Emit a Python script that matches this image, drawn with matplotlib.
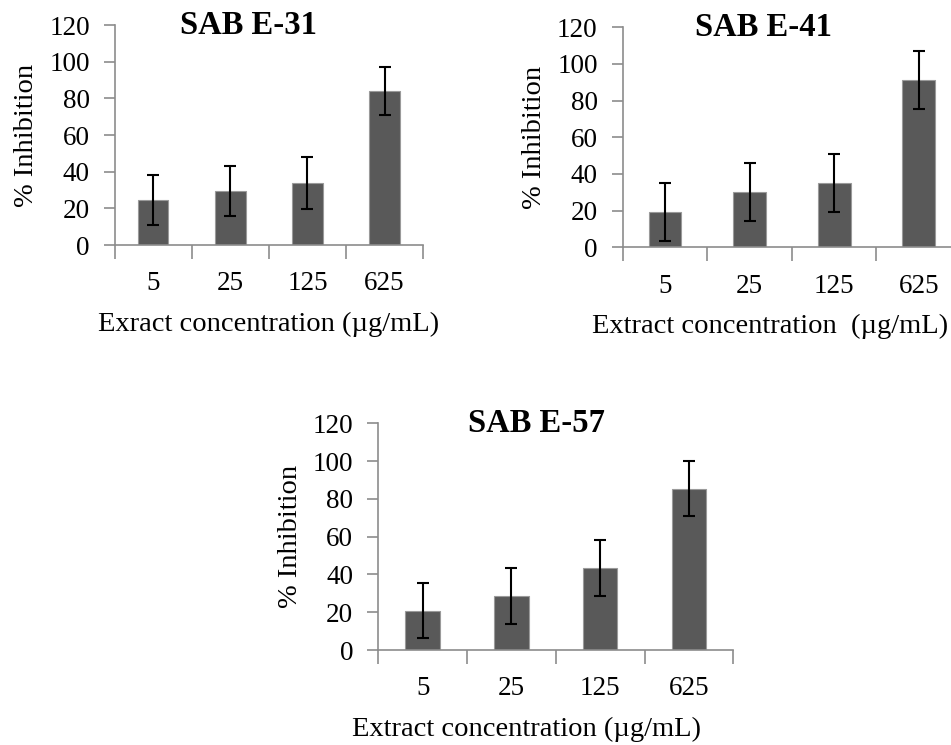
import numpy as np
import matplotlib.pyplot as plt

plt.rcParams['font.family'] = 'serif'
plt.rcParams['font.serif'] = ['Liberation Serif', 'Nimbus Roman', 'Times New Roman', 'DejaVu Serif']

concentrations = ['5', '25', '125', '625']

titles = ['SAB E-31', 'SAB E-41', 'SAB E-57']
xlabels = ['Exract concentration (\u00b5g/mL)',
           'Extract concentration  (\u00b5g/mL)',
           'Extract concentration (\u00b5g/mL)']

inhib_e31 = [24.5, 29.5, 33.8, 84.0]
err_e31 = [13.5, 13.5, 14.0, 13.2]
inhib_e41 = [19.4, 30.3, 35.2, 91.3]
err_e41 = [15.8, 15.8, 15.8, 15.8]
inhib_e57 = [20.8, 28.6, 43.4, 85.4]
err_e57 = [14.6, 14.6, 14.6, 14.4]

values = [inhib_e31, inhib_e41, inhib_e57]
errors = [err_e31, err_e41, err_e57]

# axes boxes in figure fractions [left, bottom, width, height]
boxes = [[0.1209, 0.6711, 0.3239, 0.2953],
         [0.6548, 0.6680, 0.3557, 0.2954],
         [0.3978, 0.1275, 0.3733, 0.3043]]
# horizontal centre of title / x label, in axes fraction
title_x = [0.432, 0.415, 0.446]
xlabel_x = [0.5, 0.436, 0.418]

W, H = 951, 745
fig = plt.figure(figsize=(W / 100, H / 100), dpi=100)
axis_col = '#8c8c8c'
tick_fs = 19.5
label_fs = 20.5

for i, (box, title, xl, vals, errs) in enumerate(zip(boxes, titles, xlabels, values, errors)):
    ax = fig.add_axes(box)
    wpx, hpx = box[2] * W, box[3] * H
    x = np.arange(len(concentrations))
    ax.bar(x, vals, width=0.39, color='#595959', edgecolor='#9a9a9a', linewidth=0.8, zorder=2)
    ax.errorbar(x, vals, yerr=errs, fmt='none', ecolor='black', elinewidth=1.5,
                capsize=4.5, capthick=1.5, zorder=3)
    ax.set_xlim(-0.5, len(concentrations) - 0.5)
    ax.set_ylim(0, 120)
    ax.set_yticks(np.arange(0, 121, 20))
    ax.set_xticks(x)
    ax.set_xticklabels(concentrations)
    ax.set_xticks(np.arange(-0.5, len(concentrations), 1.0), minor=True)
    ax.tick_params(axis='x', which='major', length=0, pad=19, labelsize=tick_fs)
    ax.tick_params(axis='x', which='minor', length=10, width=1.2, color=axis_col, direction='out')
    ax.tick_params(axis='y', length=8, width=1.2, color=axis_col, direction='out', pad=10,
                   labelsize=tick_fs)
    for s in ['top', 'right']:
        ax.spines[s].set_visible(False)
    for s in ['left', 'bottom']:
        ax.spines[s].set_color(axis_col)
        ax.spines[s].set_linewidth(1.2)
    ax.set_ylabel('% Inhibition', fontsize=label_fs)
    ax.yaxis.set_label_coords(-88 / wpx, 0.5)
    ax.yaxis.label.set_va('center')
    ax.set_xlabel(xl, fontsize=label_fs)
    ax.xaxis.set_label_coords(xlabel_x[i], -79 / hpx)
    ax.xaxis.label.set_va('center')
    ax.text(title_x[i], 1.0, title, transform=ax.transAxes, ha='center', va='center',
            fontsize=23.5, fontweight='bold')

fig.savefig('out.png', dpi=100)
